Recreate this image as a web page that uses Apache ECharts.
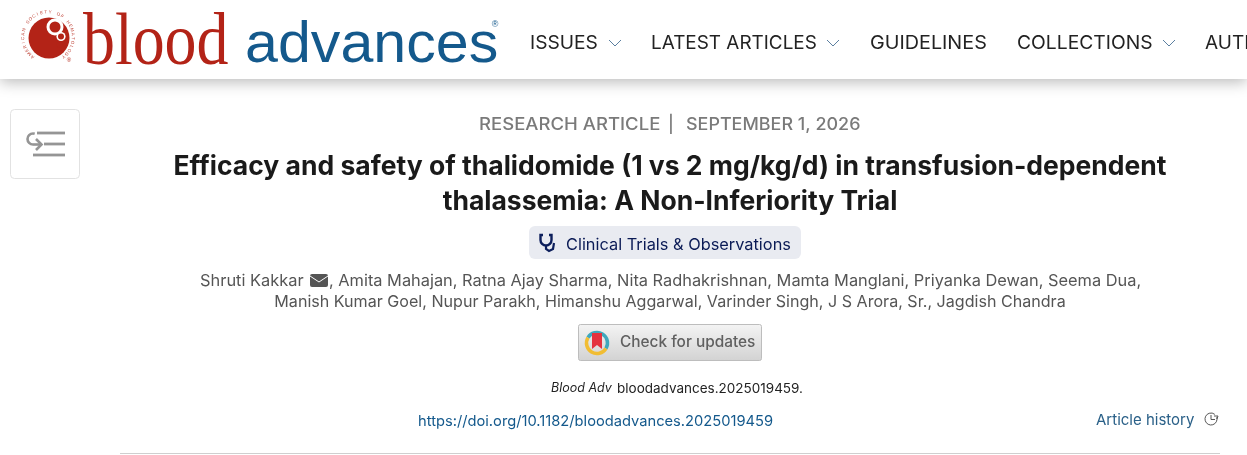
<!DOCTYPE html>
<html lang="en">
<head>
    <meta charset="UTF-8">
    <title>Blood Advances</title>
</head>
<body style="margin:0;background:#fff">
    <div id="main" style="width:1247px;height:455px"></div>
    <script src="https://cdn.jsdelivr.net/npm/echarts@6/dist/echarts.min.js"></script>
    <script type="text/javascript">
        var navItems = ['ISSUES', 'LATEST ARTICLES', 'GUIDELINES', 'COLLECTIONS', 'AUTHORS'];
        var titleLines = [
            'Efficacy and safety of thalidomide (1 vs 2 mg/kg/d) in transfusion-dependent',
            'thalassemia: A Non-Inferiority Trial'
        ];
        var authorLines = [
            ', Amita Mahajan, Ratna Ajay Sharma, Nita Radhakrishnan, Mamta Manglani, Priyanka Dewan, Seema Dua,',
            'Manish Kumar Goel, Nupur Parakh, Himanshu Aggarwal, Varinder Singh, J S Arora, Sr., Jagdish Chandra'
        ];
        var ringText = 'AMERICAN SOCIETY OF HEMATOLOGY';

        var navX = [530, 651, 870, 1017, 1205];
        var navScale = [1.01, 0.995, 1.04, 1.015, 1];
        var FONT = 'Inter, "Noto Sans", sans-serif';
        var chart = echarts.init(document.getElementById('main'), null, { renderer: 'canvas' });
        var g = [];

        function text(t, x, y, font, fill, align, extra) {
            var el = {
                type: 'text', x: x, y: y, silent: true,
                style: { text: t, font: font, fill: fill, textAlign: align || 'left', textVerticalAlign: 'middle' }
            };
            if (extra) echarts.util.merge(el, extra, true);
            g.push(el);
        }
        function rect(x, y, w, h, r, style) {
            g.push({ type: 'rect', shape: { x: x, y: y, width: w, height: h, r: r }, style: style, silent: true });
        }
        function line(points, stroke, width) {
            g.push({ type: 'polyline', shape: { points: points }, style: { fill: null, stroke: stroke, lineWidth: width }, silent: true });
        }
        function circle(cx, cy, r, style) {
            g.push({ type: 'circle', shape: { cx: cx, cy: cy, r: r }, style: style, silent: true });
        }
        function arc(cx, cy, r, a0, a1, stroke, width) {
            g.push({ type: 'arc', shape: { cx: cx, cy: cy, r: r, startAngle: a0, endAngle: a1 }, style: { fill: null, stroke: stroke, lineWidth: width }, silent: true });
        }

        // header bar
        rect(0, 0, 1247, 79, 0, { fill: '#fff', shadowBlur: 14, shadowColor: 'rgba(0,0,0,0.28)', shadowOffsetY: 3 });

        // logo
        circle(49, 38, 20.5, { fill: '#b32317' });
        circle(55, 27, 8.5, { fill: '#fff' });
        circle(55, 27, 5.5, { fill: '#b32317' });
        circle(61, 36.5, 4.6, { fill: '#fff' });
        circle(61, 36.5, 3, { fill: '#b32317' });
        circle(59.5, 44.5, 3, { fill: '#b32317' });
        for (var i = 0; i < ringText.length; i++) {
            var a = (-142 + i * 284 / (ringText.length - 1)) * Math.PI / 180;
            text(ringText[i], 48 + 25 * Math.sin(a), 37 - 25 * Math.cos(a), '4.5px "Liberation Sans"', '#c0483c', 'center', { rotation: -a });
        }
        text('®', 69, 60, '6px "Liberation Sans"', '#b32317', 'center');
        text('blood', 83, 45, '73px "Liberation Serif"', '#b32317', 'left', { scaleX: 0.875 });
        text('advances', 245, 46, '58px "Liberation Sans"', '#14598c', 'left', { scaleX: 1.02 });
        text('®', 495, 25, '9px "Liberation Sans"', '#14598c', 'center');

        // nav
        navItems.forEach(function (t, k) {
            text(t, navX[k], 43, '19px ' + FONT, '#222', 'left', { scaleX: navScale[k] });
        });
        [609, 827, 1163].forEach(function (x) {
            line([[x, 40], [x + 6, 46], [x + 12, 40]], '#5b7fa0', 1);
        });

        // side toggle
        rect(10.5, 109.5, 69, 69, 4, { fill: '#fff', stroke: '#e2e2e2', lineWidth: 1 });
        line([[37, 133], [65, 133]], '#959595', 2.8);
        line([[44, 144], [65, 144]], '#959595', 2.8);
        line([[33, 155], [65, 155]], '#959595', 2.8);
        arc(33, 139, 5.5, Math.PI / 2, Math.PI * 1.6, '#959595', 2.6);
        line([[33, 144.5], [41, 144.5]], '#959595', 2.6);
        line([[36, 139], [41.5, 144.5], [36, 150]], '#959595', 2.6);

        // meta line
        text('RESEARCH ARTICLE', 479, 124.5, '500 17px ' + FONT, '#7a7a7a', 'left', { scaleX: 1.09 });
        text('|', 671, 124.5, '500 17px ' + FONT, '#7a7a7a', 'center');
        text('SEPTEMBER 1, 2026', 686, 124.5, '500 17px ' + FONT, '#7a7a7a', 'left', { scaleX: 1.055 });

        // title
        text(titleLines[0], 670, 167, '700 26.5px ' + FONT, '#1a1a1a', 'center');
        text(titleLines[1], 670, 202, '700 26.5px ' + FONT, '#1a1a1a', 'center');

        // badge
        rect(529, 226, 272, 33, 6, { fill: '#e9ebf1' });
        arc(546, 240, 5.5, 0, Math.PI, '#0d1f5c', 2.4);
        line([[540.5, 240], [540.5, 235], [543, 235]], '#0d1f5c', 2.4);
        line([[551.5, 240], [551.5, 235], [549, 235]], '#0d1f5c', 2.4);
        line([[546, 245.5], [546, 249], [549, 251], [553, 249], [554, 243]], '#0d1f5c', 2.2);
        text('Clinical Trials & Observations', 566, 245, '16.35px ' + FONT, '#0a1a55', 'left');

        // authors
        text('Shruti Kakkar', 200, 281.5, '16.4px ' + FONT, '#555', 'left');
        rect(310, 274, 18, 13, 2, { fill: '#555' });
        line([[310, 276], [319, 282], [328, 276]], '#fff', 1);
        text(authorLines[0], 329, 281.5, '16.36px ' + FONT, '#555', 'left');
        text(authorLines[1], 670, 302.5, '16.1px ' + FONT, '#555', 'center');

        // check for updates button
        rect(578.5, 324.5, 183, 36, 2, {
            stroke: '#bdbdbd', lineWidth: 1,
            fill: new echarts.graphic.LinearGradient(0, 0, 0, 1, [
                { offset: 0, color: '#f4f4f4' }, { offset: 1, color: '#d2d2d2' }
            ])
        });
        arc(597, 343, 10.5, -2.6, 0.55, '#3fa8bd', 3.5);
        arc(597, 343, 10.5, 0.55, 3.68, '#f1bd33', 3.5);
        g.push({ type: 'polygon', shape: { points: [[592, 333], [602, 333], [602, 349], [597, 345], [592, 349]] }, style: { fill: '#e4333f' }, silent: true });
        text('Check for updates', 620, 342, '500 15.4px ' + FONT, '#606060', 'left');

        // citation
        text('Blood Adv', 551, 388.5, 'italic 12.5px ' + FONT, '#222', 'left');
        text('bloodadvances.2025019459.', 617, 388.5, '13.5px ' + FONT, '#222', 'left');

        // doi + history
        text('https://doi.org/10.1182/bloodadvances.2025019459', 418, 421.5, '14.7px ' + FONT, '#14598c', 'left');
        text('Article history', 1096, 420, '15px ' + FONT, '#2a6088', 'left');
        arc(1211, 419, 6, -0.3, 5.4, '#555', 1);
        line([[1211, 415], [1211, 419.5], [1215, 419.5]], '#555', 1);
        line([[1214, 416], [1218, 416], [1217, 419]], '#555', 1);

        // rule
        line([[120, 453.5], [1220, 453.5]], '#cfcfcf', 1);

        chart.setOption({ animation: false, backgroundColor: '#fff', graphic: { elements: g } });
    </script>
</body>
</html>
